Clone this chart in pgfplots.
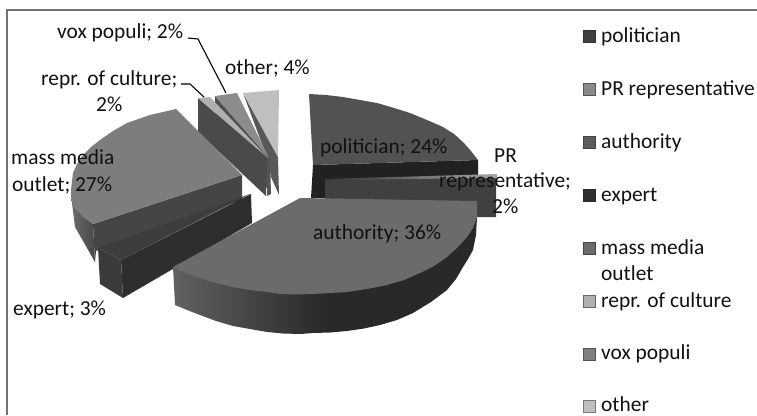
\documentclass[border=0pt]{standalone}
\usepackage{pgfplots}
\pgfplotsset{compat=1.18}
\usepackage{fontspec}
\setmainfont{Carlito}

\definecolor{txt}{HTML}{111111}
% coordinates are the pixel positions
\newcommand{\slice}[2]{\addplot[fill=black!#1,draw=none] coordinates {#2} -- cycle;}
\newcommand{\swatch}[3]{\addplot[only marks,mark=square*,mark size=6pt,mark options={fill=black!#1,draw=black!#2,line width=1pt}] coordinates {#3};}
\newcommand{\lab}[2]{\node[anchor=base west,inner sep=0pt,text=txt,font=\fontsize{21.4}{23}\selectfont] at (axis cs:#1) {#2};}

\begin{document}
\begin{tikzpicture}
\useasboundingbox (0,0) rectangle (757pt,415pt);
\begin{axis}[
  at={(0,0)},
  anchor=south west,
  scale only axis,
  width=757pt,
  height=415pt,
  xmin=0, xmax=757,
  ymin=0, ymax=415,
  y dir=reverse,
  axis lines=none,
  clip=false,
]
% frame
\addplot[draw=black!55,line width=1.4pt] coordinates {(7,415) (7,10) (757,10)};

% other
\slice{65}{(243,93) (278,157) (279,195) (271,177) (268,160)}
\slice{25}{(243,93) (279,90) (278,157)}
% vox populi
\slice{69}{(215,96) (269,158) (270,192) (215,125)}
\slice{45}{(215,96) (237,93) (269,158)}
% repr. of culture
\slice{67}{(267,158) (270,158) (271,194) (267,196)}
\slice{71}{(198,98) (267,158) (266,196) (198,132)}
\slice{31}{(198,98) (210,97) (268,158)}

% politician
\slice{87}{(313,165) (478,160) (478,200) (311,198)}
\slice{68}{(309,94) (326,95) (343,97) (360,100) (377,103) (394,108) (410,113) (427,120) (443,127) (454,134) (463,142) (471,151) (478,160) (313,165)}
% PR representative
\slice{75}{(325,179) (496,175) (496,217) (325,217)}
\addplot[draw=none,shade,left color=black!80,right color=black!35] coordinates {(325,179) (497,174) (497,178) (325,180)} -- cycle;

% mass media outlet
\addplot[draw=none,shade,left color=black!58,right color=black!72] coordinates {(71,197) (75,208) (93,224) (95,262) (75,227) (72,203)} -- cycle;
\slice{73}{(93,224) (242,175) (242,200) (96,251) (95,262)}
\slice{51}{(176,109) (150,115) (127,123) (113,131) (100,140) (91,147) (83,155) (77,164) (73,173) (71,190) (71,197) (75,208) (83,217) (93,224) (242,175)}
% expert
\slice{76}{(98,248) (250,194) (121,260)}
\slice{82}{(121,260) (251,194) (252,223) (123,298)}
\slice{77}{(98,248) (121,260) (123,298) (100,284)}

% authority
\addplot[draw=none,shade,left color=black!62,right color=black!84,middle color=black!84] coordinates {(173,267) (175,305) (187,310) (200,315) (216,321) (233,326) (250,329) (267,332) (283,333.5) (300,334) (313,333) (330,332.5) (347,331) (364,328.5) (380,325) (397,320) (413,313) (431,302) (447,290) (456,279) (463,267) (468,259) (473,250) (476,235) (477,217)} -- cycle;
\slice{58}{(300,198) (477,201) (477,217) (473,228) (467,237) (457,248) (447,257) (434,266) (420,273) (404,280) (387,285) (367,289) (347,292) (330,293) (313,294) (296,294.5) (280,294) (267,292) (250,290) (233,287) (216,283) (200,278) (186,273) (173,267)}

% leader lines
\addplot[draw=black,line width=1.1pt] coordinates {(188,38) (198,39) (226,93)};
\addplot[draw=black,line width=1.1pt] coordinates {(181,84) (190,84) (204,97)};

% data labels
\lab{57,38}{vox populi; 2\%}
\lab{225,74}{other; 4\%}
\lab{41,85}{repr. of culture;}
\lab{96,111}{2\%}
\lab{11,164}{mass media}
\lab{12,191}{outlet; 27\%}
\lab{320,153}{politician; 24\%}
\lab{494,162}{PR}
\lab{439,187}{representative;}
\lab{492,213}{2\%}
\lab{313,239}{authority; 36\%}
\lab{13,315}{expert; 3\%}

% legend
\swatch{75}{80}{(589.5,36)}
\swatch{46}{67}{(589.5,89)}
\swatch{64}{73}{(589.5,142)}
\swatch{82}{84}{(589.5,195)}
\swatch{58}{73}{(589.5,248)}
\swatch{31}{60}{(589.5,301)}
\swatch{50}{67}{(589.5,354)}
\swatch{25}{53}{(589.5,406)}
\lab{601,42}{politician}
\lab{601,95}{PR representative}
\lab{601,148}{authority}
\lab{601,201}{expert}
\lab{601,254}{mass media}
\lab{601,280}{outlet}
\lab{601,307}{repr. of culture}
\lab{601,359}{vox populi}
\lab{601,411}{other}
\end{axis}
\end{tikzpicture}
\end{document}
